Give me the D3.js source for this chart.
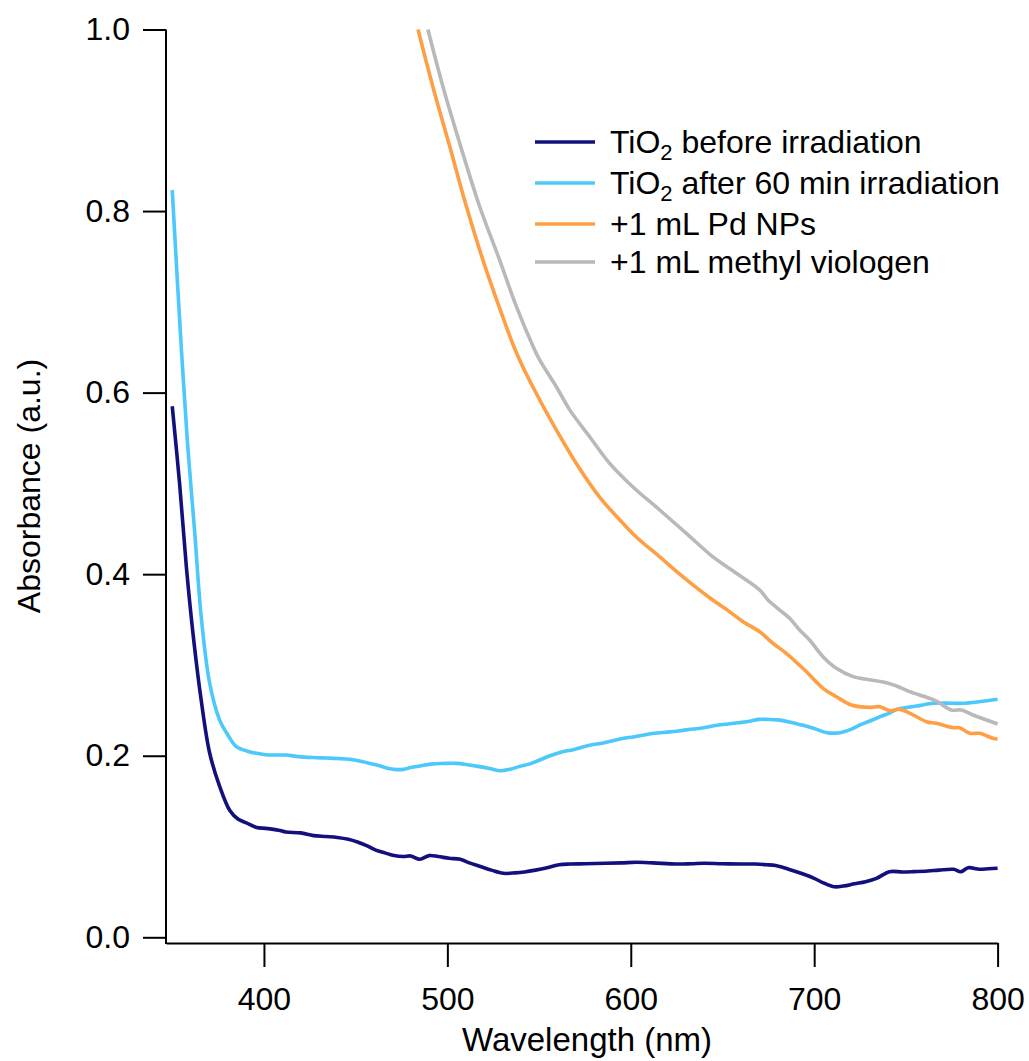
<!DOCTYPE html>
<html>
<head>
<meta charset="utf-8">
<script src="https://cdn.jsdelivr.net/npm/d3@7"></script>
<style>
  body { margin: 0; background: #fff; }
  text { font-family: "Liberation Sans", Arial, sans-serif; fill: #000; }
</style>
</head>
<body>
<div id="chart"></div>
<script>
// ---- data (wavelength nm, absorbance) ----
var tio2Before = [
  [350,0.585],[354,0.50],[357.7,0.408],[361.3,0.335],[365.8,0.261],[370.4,0.203],
  [375.9,0.166],[381.3,0.140],[386,0.130],[390.4,0.126],[396,0.121],[401,0.120],
  [408,0.118],[412,0.116],[420,0.115],[427,0.112],[434,0.111],[440,0.110],
  [446,0.108],[451,0.105],[456,0.101],[461,0.096],[466,0.093],[471,0.090],
  [476,0.089],[480,0.0896],[485,0.086],[490,0.090],[495,0.089],[501,0.087],
  [507,0.086],[512,0.082],[518,0.078],[524,0.074],[530.5,0.0705],[537,0.071],
  [542,0.072],[548,0.074],[555,0.077],[561,0.080],[567,0.0807],[575,0.081],
  [586,0.0815],[595,0.082],[603,0.0826],[612,0.082],[625,0.0807],[633,0.081],
  [640,0.0815],[650,0.081],[660,0.0808],[668,0.0807],[674,0.080],[679,0.079],
  [686,0.075],[694,0.0697],[700,0.065],[705,0.060],[711,0.0557],[716,0.0565],
  [722,0.059],[728,0.0613],[734,0.065],[741,0.0723],[748,0.072],[754,0.0723],
  [762,0.073],[768,0.074],[776,0.0749],[780,0.0723],[784,0.0767],[790,0.075],
  [795,0.0755],[800,0.076]
];

var tio2After = [
  [350,0.823],[355,0.647],[358.6,0.537],[362.3,0.445],[365.8,0.353],[370.4,0.28],
  [375.9,0.239],[380,0.224],[385,0.21],[392,0.2045],[396,0.2027],[401,0.201],
  [407,0.2008],[412,0.2008],[419,0.199],[427,0.198],[434,0.1975],[440,0.197],
  [447,0.196],[454,0.1935],[459,0.191],[463,0.189],[468,0.186],[471,0.185],
  [476,0.185],[480,0.187],[485,0.1887],[492,0.191],[498,0.1915],[505,0.1916],
  [511,0.190],[517.5,0.188],[523,0.186],[529,0.1835],[534,0.185],[539,0.188],
  [545,0.191],[550,0.195],[556,0.200],[561,0.2034],[569,0.207],[578,0.2118],
  [585,0.214],[593,0.218],[602,0.221],[613,0.2247],[620,0.226],[627,0.2276],
  [634,0.2295],[638,0.2302],[647,0.2335],[653,0.235],[659,0.2364],[665,0.238],
  [670,0.2401],[675,0.240],[680,0.2395],[687,0.237],[694,0.2335],[700,0.230],
  [707,0.2254],[714,0.2254],[720,0.229],[725,0.2339],[730,0.238],[736,0.243],
  [741,0.247],[745,0.2511],[750,0.253],[756,0.2548],[765,0.2578],[772,0.258],
  [781,0.2578],[790,0.2595],[800,0.2622]
];

var pdNPs = [
  [484,1.0],[492.1,0.937],[501.3,0.871],[510.4,0.805],[519.4,0.746],[528.5,0.693],
  [535.8,0.653],[539.4,0.636],[548.5,0.599],[559.4,0.559],[570.3,0.522],[583,0.485],
  [593.9,0.46],[603,0.441],[615.8,0.419],[628.5,0.397],[643,0.374],[653.9,0.3587],
  [661.2,0.3477],[670.3,0.3366],[677.5,0.3239],[684.8,0.3128],[694.8,0.2944],
  [704.8,0.2743],[712.1,0.265],[720.3,0.2559],[730.3,0.2533],[735.7,0.254],
  [741.2,0.2496],[746.6,0.2511],[752,0.247],[761.2,0.2375],[766.6,0.2357],
  [775.7,0.2309],[779.3,0.2309],[784.8,0.2247],[790.2,0.2247],[797.5,0.2192],
  [800,0.2184]
];

var methylViologen = [
  [489.4,1.0],[497.6,0.937],[506.7,0.875],[517.6,0.805],[528.5,0.746],[537.6,0.695],
  [546.7,0.651],[550.3,0.636],[559.4,0.6065],[566.7,0.581],[577.6,0.5514],
  [588.5,0.522],[601.2,0.496],[615.8,0.4707],[630.3,0.445],[644.8,0.419],
  [657.6,0.401],[670.3,0.3826],[674.8,0.3716],[681.2,0.3605],[686.6,0.3514],
  [692.1,0.3385],[697.5,0.3275],[704.8,0.3091],[712.1,0.2963],[721.2,0.2871],
  [728.5,0.2842],[739.4,0.2805],[744.8,0.2768],[752.1,0.2706],[761.2,0.2644],
  [766.6,0.2603],[774.8,0.2504],[780.3,0.2504],[786.6,0.2449],[793.9,0.2394],
  [800,0.235]
];

var xTicks = [400, 500, 600, 700, 800];
var yTicks = [0.0, 0.2, 0.4, 0.6, 0.8, 1.0];

var seriesNames = ["before irradiation", "after 60 min irradiation", "+1 mL Pd NPs", "+1 mL methyl viologen"];
var seriesColors = ["#12107c", "#4cc8fb", "#ff9f45", "#b9b9b9"];
var seriesData = [tio2Before, tio2After, pdNPs, methylViologen];

// ---- layout ----
var W = 1029, H = 1061;
var svg = d3.select("#chart").append("svg")
  .attr("width", W)
  .attr("height", H);

var x = d3.scaleLinear().domain([346.6, 800]).range([166, 997.6]);
var y = d3.scaleLinear().domain([0, 1]).range([937.3, 29.5]);
var xAxisY = 943;

// axes
var gx = svg.append("g")
  .attr("transform", "translate(0," + xAxisY + ")")
  .call(d3.axisBottom(x).tickValues(xTicks).tickFormat(d3.format("d"))
    .tickSize(24).tickSizeOuter(0).tickPadding(20));

var gy = svg.append("g")
  .attr("transform", "translate(166,0)")
  .call(d3.axisLeft(y).tickValues(yTicks).tickFormat(d3.format(".1f"))
    .tickSize(23).tickPadding(13));
gy.select(".domain").remove();
svg.append("line")
  .attr("x1", 166).attr("x2", 166)
  .attr("y1", y(1)).attr("y2", xAxisY + 1)
  .attr("stroke", "#000").attr("stroke-width", 2);

svg.selectAll(".domain").attr("stroke", "#000").attr("stroke-width", 2);
svg.selectAll(".tick line").attr("stroke", "#000").attr("stroke-width", 2);
svg.selectAll(".tick text")
  .style("font-family", "'Liberation Sans', Arial, sans-serif")
  .style("font-size", "32px").attr("fill", "#000");

// axis titles
svg.append("text")
  .attr("x", 587).attr("y", 1051)
  .attr("text-anchor", "middle")
  .style("font-size", "33px")
  .text("Wavelength (nm)");

svg.append("text")
  .attr("transform", "translate(40,486) rotate(-90)")
  .attr("text-anchor", "middle")
  .style("font-size", "32px")
  .text("Absorbance (a.u.)");

// curves
var line = d3.line()
  .curve(d3.curveCatmullRom.alpha(0.5))
  .x(function(d) { return x(d[0]); })
  .y(function(d) { return y(d[1]); });

svg.selectAll(".curve")
  .data(seriesData)
  .enter().append("path")
    .attr("class", "curve")
    .attr("d", line)
    .attr("fill", "none")
    .attr("stroke", function(d, i) { return seriesColors[i]; })
    .attr("stroke-width", 3.6)
    .attr("stroke-linejoin", "round");

// legend
var legendRows = [142, 183, 224, 262];
var legend = svg.append("g");
seriesNames.forEach(function(name, i) {
  var ly = legendRows[i];
  legend.append("line")
    .attr("x1", 535).attr("x2", 595)
    .attr("y1", ly).attr("y2", ly)
    .attr("stroke", seriesColors[i])
    .attr("stroke-width", 3.6);
  var t = legend.append("text")
    .attr("x", 610).attr("y", ly + 11)
    .style("font-size", "32px");
  if (i < 2) {
    t.append("tspan").text("TiO");
    t.append("tspan").attr("dy", 7).style("font-size", "22px").text("2");
    t.append("tspan").attr("dy", -7).text(" " + name);
  } else {
    t.text(name);
  }
});
</script>
</body>
</html>
